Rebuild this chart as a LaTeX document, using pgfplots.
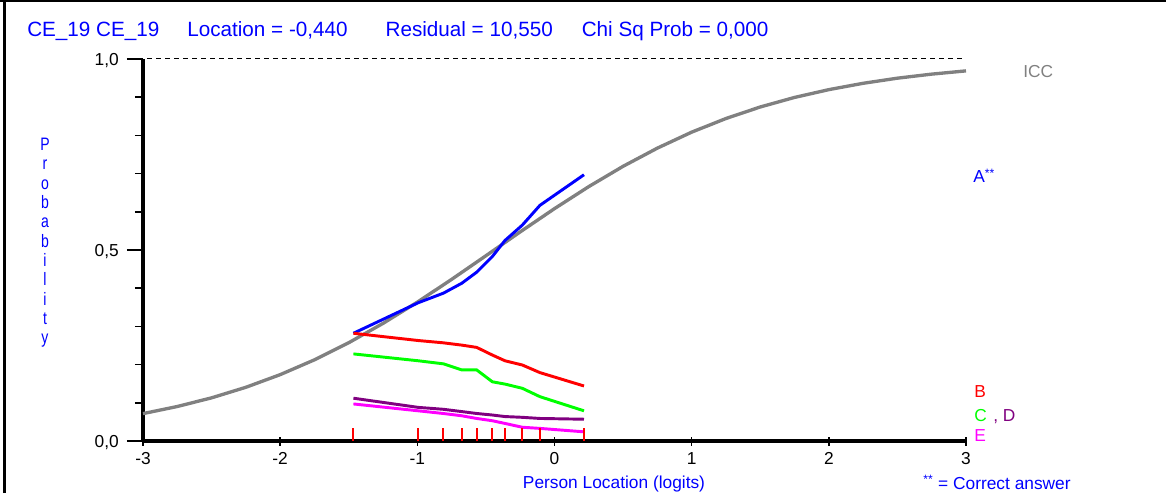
\documentclass[border=0pt]{standalone}
\usepackage{fontspec}
\setmainfont{Liberation Sans}
\newfontfamily\narrowfont{Liberation Sans}[FakeStretch=0.78]
\usepackage{pgfplots}
\pgfplotsset{compat=1.18}
\definecolor{iccgray}{RGB}{128,128,128}
\definecolor{optblue}{RGB}{0,0,255}
\definecolor{optred}{RGB}{255,0,0}
\definecolor{optgreen}{RGB}{0,255,0}
\definecolor{optpurple}{RGB}{128,0,128}
\definecolor{optmagenta}{RGB}{255,0,255}
\begin{document}
\begin{tikzpicture}
\path[use as bounding box] (0pt,0pt) rectangle (874.5pt,369.75pt);
\draw[line width=1.2pt] (0pt,369.1pt) -- (874.5pt,369.1pt);
\draw[line width=2pt] (3.5pt,0pt) -- (3.5pt,369.75pt);
\begin{axis}[
  at={(107.25pt,39pt)}, anchor=south west,
  scale only axis, width=617.25pt, height=286.5pt,
  xmin=-3, xmax=3, ymin=0, ymax=1,
  axis x line=bottom, axis y line=left,
  axis line style={-, line width=2.6pt, black},
  clip=false,
  xtick={-3,-2,-1,0,1,2,3}, xticklabels={-3,-2,-1,0,1,2,3},
  ytick={0,0.5,1}, yticklabels={{0,0},{0,5},{1,0}},
  minor ytick={0.1,0.2,0.3,0.4,0.6,0.7,0.8,0.9},
  tick align=outside,
  major tick length=12pt, minor tick length=6pt,
  tick style={black, line width=1.2pt},
  major x tick style={draw=none},
  ticklabel style={font=\fontsize{13}{15}\selectfont, text depth=0pt, inner sep=0pt},
  yticklabel style={anchor=east, xshift=-6pt},
  xticklabel style={anchor=north, yshift=3.75pt},
]
\pgfplotsinvokeforeach{-3,-2,-1,0,1,2,3}{
  \draw[black, line width=1.2pt] ([yshift=3pt]axis cs:#1,0) -- ([yshift=-3.75pt]axis cs:#1,0);
}
\addplot[black, line width=0.75pt, dash pattern=on 3.75pt off 3pt] coordinates {(-2.97,1) (3,1)};
\addplot[iccgray, line width=2.5pt] coordinates {
(-3,0.0717) (-2.75,0.0903) (-2.5,0.1130) (-2.25,0.1406) (-2,0.1737)
(-1.75,0.2125) (-1.5,0.2573) (-1.25,0.3079) (-1,0.3635) (-0.75,0.4231)
(-0.5,0.4850) (-0.25,0.5474) (0,0.6083) (0.25,0.6660) (0.5,0.7191)
(0.75,0.7667) (1,0.8085) (1.25,0.8442) (1.5,0.8744) (1.75,0.8994)
(2,0.9198) (2.25,0.9364) (2.5,0.9498) (2.75,0.9604) (3,0.9689)};
\addplot[optblue, line width=2.2pt] coordinates {
(-1.466,0.282) (-0.993,0.362) (-0.810,0.387) (-0.676,0.413) (-0.567,0.442)
(-0.453,0.483) (-0.361,0.525) (-0.235,0.565) (-0.106,0.617) (0.215,0.697)};
\addplot[optred, line width=2.2pt] coordinates {
(-1.466,0.282) (-0.993,0.263) (-0.810,0.257) (-0.676,0.251) (-0.567,0.245)
(-0.453,0.225) (-0.361,0.210) (-0.235,0.199) (-0.106,0.179) (0.215,0.144)};
\addplot[optgreen, line width=2.2pt] coordinates {
(-1.466,0.228) (-0.993,0.210) (-0.810,0.202) (-0.676,0.186) (-0.567,0.186)
(-0.453,0.155) (-0.361,0.149) (-0.235,0.138) (-0.106,0.116) (0.215,0.079)};
\addplot[optpurple, line width=2.2pt] coordinates {
(-1.466,0.112) (-0.993,0.088) (-0.810,0.083) (-0.676,0.077) (-0.567,0.072)
(-0.453,0.068) (-0.361,0.064) (-0.235,0.062) (-0.106,0.059) (0.215,0.057)};
\addplot[optmagenta, line width=2.2pt] coordinates {
(-1.466,0.097) (-0.993,0.079) (-0.810,0.072) (-0.676,0.066) (-0.567,0.059)
(-0.453,0.053) (-0.361,0.046) (-0.235,0.036) (-0.106,0.033) (0.215,0.024)};
\addplot[optred, ycomb, line width=1.6pt, mark=none] coordinates {
(-1.466,0.033) (-0.993,0.033) (-0.810,0.033) (-0.676,0.033) (-0.567,0.033)
(-0.453,0.033) (-0.361,0.033) (-0.235,0.033) (-0.106,0.033) (0.215,0.033)};
\end{axis}
\node[anchor=base west, inner sep=0pt, text=optblue, font=\fontsize{15.5}{18}\selectfont]
  at (20.25pt,342.2pt) {CE\_19 CE\_19\hspace{21pt}Location = -0,440\hspace{28.5pt}Residual = 10,550\hspace{21.75pt}Chi Sq Prob = 0,000};
\node[anchor=north, inner sep=0pt, align=center, text=optblue, font=\narrowfont\fontsize{13.5}{14.5}\selectfont]
  at (33.75pt,266.25pt) {P\\r\\o\\b\\a\\b\\i\\l\\i\\t\\y};
\node[anchor=base, inner sep=0pt, text=optblue, font=\fontsize{13}{15}\selectfont] at (460.5pt,3.75pt) {Person Location (logits)};
\node[anchor=base west, inner sep=0pt, text=iccgray, font=\fontsize{13}{15}\selectfont] at (767.25pt,311.25pt) {ICC};
\node[anchor=base west, inner sep=0pt, text=optblue, font=\fontsize{13}{15}\selectfont] at (729.75pt,232.5pt) {A\textsuperscript{**}};
\node[anchor=base west, inner sep=0pt, text=optred, font=\fontsize{13}{15}\selectfont] at (730.5pt,72pt) {B};
\node[anchor=base west, inner sep=0pt, text=optgreen, font=\fontsize{13}{15}\selectfont] at (730.5pt,54pt) {C};
\node[anchor=base west, inner sep=0pt, text=optpurple, font=\fontsize{13}{15}\selectfont] at (744.75pt,54pt) {, D};
\node[anchor=base west, inner sep=0pt, text=optmagenta, font=\fontsize{13}{15}\selectfont] at (730.5pt,39pt) {E};
\node[anchor=base west, inner sep=0pt, text=optblue, font=\fontsize{13}{15}\selectfont] at (692.25pt,3pt) {\textsuperscript{**} = Correct answer};
\end{tikzpicture}
\end{document}
